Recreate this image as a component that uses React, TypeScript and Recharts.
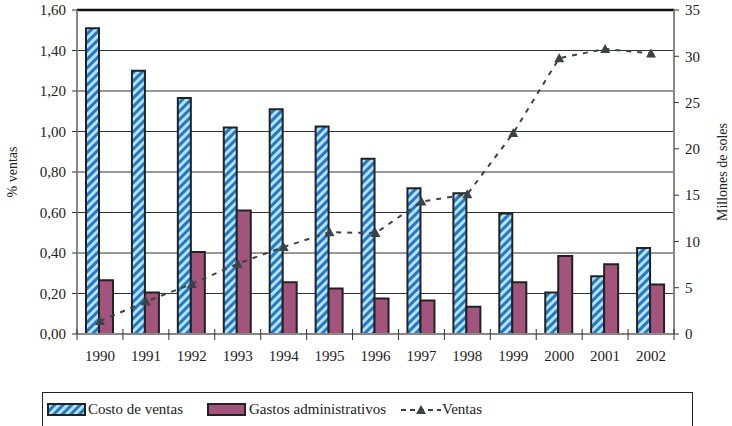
import React from "react";
import {
  ComposedChart,
  Bar,
  Line,
  XAxis,
  YAxis,
  CartesianGrid,
  Legend,
} from "recharts";

const years = ["1990", "1991", "1992", "1993", "1994", "1995", "1996", "1997", "1998", "1999", "2000", "2001", "2002"];
const costoVentas = [1.51, 1.3, 1.165, 1.02, 1.11, 1.025, 0.865, 0.72, 0.695, 0.595, 0.205, 0.285, 0.425];
const gastosAdmin = [0.265, 0.205, 0.405, 0.61, 0.255, 0.225, 0.175, 0.165, 0.135, 0.255, 0.385, 0.345, 0.245];
const ventas = [1.4, 3.5, 5.4, 7.6, 9.4, 11.0, 10.9, 14.3, 15.1, 21.7, 29.8, 30.8, 30.3];

const leftTicks = [0, 0.2, 0.4, 0.6, 0.8, 1.0, 1.2, 1.4, 1.6];
const rightTicks = [0, 5, 10, 15, 20, 25, 30, 35];

const data = years.map((year, i) => ({
  year,
  costo: costoVentas[i],
  gastos: gastosAdmin[i],
  ventas: ventas[i],
}));

const W = 732;
const H = 426;
const LEFT_W = 77;
const RIGHT_W = 58;
const BAND = (W - LEFT_W - RIGHT_W) / years.length;

const font = '"Liberation Serif"';
const blue = "#2479c4";
const lightBlue = "#b4e2f4";
const mauve = "#a2547c";
const lineColor = "#3d4247";
const textColor = "#222";

const fmt = (v: number) => v.toFixed(2).replace(".", ",");

function StripeDefs({ id }: { id: string }) {
  return (
    <defs>
      <pattern id={id} width="6" height="6" patternUnits="userSpaceOnUse" patternTransform="rotate(45)">
        <rect width="6" height="6" fill={lightBlue} />
        <rect width="3" height="6" fill={blue} />
      </pattern>
    </defs>
  );
}

function Triangle(props: any) {
  const { cx, cy } = props;
  if (cx == null || cy == null) return null;
  return <path d={`M${cx - 5},${cy + 4} L${cx},${cy - 5} L${cx + 5},${cy + 4} Z`} fill={lineColor} />;
}

function YearTick(props: any) {
  const { x, y, payload, index } = props;
  const axisY = y - 8;
  const left = x - BAND / 2;
  return (
    <g>
      <line x1={left} y1={axisY - 5} x2={left} y2={axisY + 6} stroke="#333" strokeWidth={1} />
      {index === years.length - 1 && (
        <line x1={x + BAND / 2} y1={axisY - 5} x2={x + BAND / 2} y2={axisY + 6} stroke="#333" strokeWidth={1} />
      )}
      <text x={x} y={axisY + 27} textAnchor="middle" fontSize={15} style={{ fontFamily: font }} fill={textColor}>
        {payload.value}
      </text>
    </g>
  );
}

function SideLabel({ viewBox, value, cxOffset }: any) {
  const cx = viewBox.x + cxOffset;
  const cy = viewBox.y + viewBox.height / 2;
  return (
    <text
      x={cx}
      y={cy}
      transform={`rotate(-90 ${cx} ${cy})`}
      textAnchor="middle"
      dominantBaseline="central"
      fontSize={14}
      style={{ fontFamily: font }}
      fill={textColor}
    >
      {value}
    </text>
  );
}

function LegendBox() {
  return (
    <div
      style={{
        marginLeft: 42,
        marginTop: 28,
        width: 651,
        height: 40,
        border: "1px solid #222",
        boxSizing: "border-box",
        position: "relative",
        fontFamily: font,
        fontSize: 15,
        color: textColor,
      }}
    >
      <svg width={44} height={16} style={{ position: "absolute", left: 4, top: 9 }}>
        <StripeDefs id="legendStripe" />
        <rect x={1} y={2} width={37} height={11} fill="url(#legendStripe)" stroke="#222" strokeWidth={2} />
      </svg>
      <span style={{ position: "absolute", left: 45, top: 8 }}>Costo de ventas</span>
      <svg width={44} height={16} style={{ position: "absolute", left: 164, top: 9 }}>
        <rect x={1} y={2} width={37} height={11} fill={mauve} stroke="#222" strokeWidth={2} />
      </svg>
      <span style={{ position: "absolute", left: 206, top: 8 }}>Gastos administrativos</span>
      <svg width={44} height={16} style={{ position: "absolute", left: 357, top: 9 }}>
        <line x1={1} y1={8} x2={41} y2={8} stroke={lineColor} strokeWidth={2} strokeDasharray="5 4" />
        <path d="M16,12 L21,3 L26,12 Z" fill={lineColor} />
      </svg>
      <span style={{ position: "absolute", left: 399, top: 8 }}>Ventas</span>
    </div>
  );
}

const tickStyle = { fontSize: 15, fill: textColor, style: { fontFamily: font } };

export default function App() {
  return (
    <div style={{ position: "absolute", left: 0, top: 0, width: W, height: H, background: "#fff", fontFamily: font }}>
      <ComposedChart
        width={W}
        height={H}
        data={data}
        margin={{ top: 10, right: 0, left: 0, bottom: 0 }}
        barGap={0}
        barCategoryGap="22%"
        style={{ fontFamily: font }}
      >
        <StripeDefs id="costoStripe" />
        <CartesianGrid vertical={false} stroke="#333" strokeWidth={1} yAxisId="left" />
        <XAxis
          dataKey="year"
          height={30}
          axisLine={{ stroke: "#888", strokeWidth: 2 }}
          tickLine={false}
          tick={<YearTick />}
          interval={0}
        />
        <YAxis
          yAxisId="left"
          width={LEFT_W}
          domain={[0, 1.6]}
          ticks={leftTicks}
          tickFormatter={fmt}
          axisLine={{ stroke: "#888", strokeWidth: 2 }}
          tickLine={{ stroke: "#333" }}
          tickSize={5}
          tickMargin={6}
          tick={tickStyle}
          label={(props: any) => <SideLabel {...props} value="% ventas" cxOffset={12} />}
        />
        <YAxis
          yAxisId="right"
          orientation="right"
          width={RIGHT_W}
          domain={[0, 35]}
          ticks={rightTicks}
          axisLine={{ stroke: "#888", strokeWidth: 2 }}
          tickLine={{ stroke: "#333" }}
          tickSize={5}
          tickMargin={6}
          tick={tickStyle}
          label={(props: any) => <SideLabel {...props} value="Millones de soles" cxOffset={48} />}
        />
        <Legend verticalAlign="bottom" height={62} content={() => <LegendBox />} wrapperStyle={{ left: 0, width: W }} />
        <Bar
          yAxisId="left"
          dataKey="costo"
          name="Costo de ventas"
          fill="url(#costoStripe)"
          stroke="#222"
          strokeWidth={2}
          barSize={13}
          isAnimationActive={false}
        />
        <Bar
          yAxisId="left"
          dataKey="gastos"
          name="Gastos administrativos"
          fill={mauve}
          stroke="#222"
          strokeWidth={2}
          barSize={14}
          isAnimationActive={false}
        />
        <Line
          yAxisId="right"
          dataKey="ventas"
          name="Ventas"
          type="linear"
          stroke={lineColor}
          strokeWidth={2}
          strokeDasharray="5 6"
          dot={<Triangle />}
          activeDot={false}
          isAnimationActive={false}
        />
        <line x1={LEFT_W} y1={10} x2={W - RIGHT_W} y2={10} stroke="#111" strokeWidth={2.5} />
      </ComposedChart>
    </div>
  );
}
